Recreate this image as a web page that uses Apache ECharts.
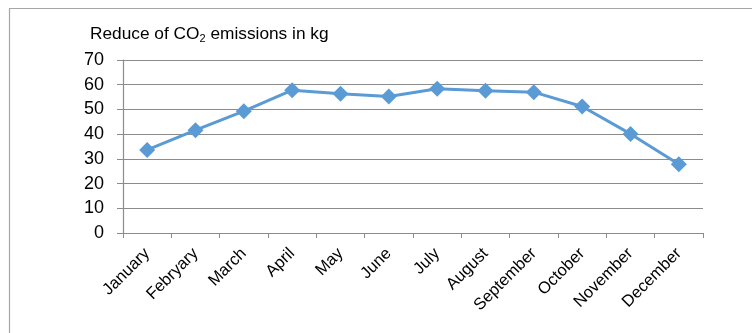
<!DOCTYPE html>
<html>
<head>
<meta charset="utf-8">
<script src="https://cdn.jsdelivr.net/npm/echarts@6/dist/echarts.min.js"></script>
<style>html,body{margin:0;padding:0;background:#fff}#c{width:752px;height:333px}</style>
</head>
<body>
<div id="c"></div>
<script>
var categories = ['January','Febryary','March','April','May','June','July','August','September','October','November','December'];
var values = [33.6, 41.6, 49.3, 57.8, 56.3, 55.2, 58.4, 57.6, 57.0, 51.2, 40.1, 27.8];
var yTicks = { min: 0, max: 70, interval: 10 };

var chart = echarts.init(document.getElementById('c'), null, { renderer: 'canvas' });
var font = 'Liberation Sans, Arial, sans-serif';
chart.setOption({
  backgroundColor: '#fff',
  animation: false,
  graphic: [{
    type: 'rect', left: 7, top: 6,
    shape: { width: 900, height: 500 },
    style: { fill: 'none', stroke: '#a6a6a6', lineWidth: 1.2 },
    silent: true, z: -10
  }],
  title: {
    left: 85, top: 16,
    text: '{a|Reduce of CO}{b|2}{a| emissions in kg}',
    textStyle: {
      rich: {
        a: { fontFamily: font, fontSize: 17.3, fontWeight: 'normal', color: '#000', lineHeight: 22, verticalAlign: 'bottom' },
        b: { fontFamily: font, fontSize: 11, fontWeight: 'normal', color: '#000', lineHeight: 12, verticalAlign: 'top', padding: [12, 0, 0, 0] }
      }
    }
  },
  grid: { left: 123, right: 49, top: 60, bottom: 100, containLabel: false },
  xAxis: {
    type: 'category',
    data: categories,
    boundaryGap: true,
    axisLine: { show: true, lineStyle: { color: '#8c8c8c', width: 1.2 } },
    axisTick: { show: true, length: 5, lineStyle: { color: '#8c8c8c' } },
    axisLabel: { rotate: 45, margin: 18, fontFamily: font, fontSize: 16.5, color: '#000', interval: 0 }
  },
  yAxis: {
    type: 'value',
    min: yTicks.min, max: yTicks.max, interval: yTicks.interval,
    axisLine: { show: true, lineStyle: { color: '#8c8c8c', width: 1.2 } },
    axisTick: { show: true, length: 6, lineStyle: { color: '#8c8c8c' } },
    axisLabel: { margin: 19, fontFamily: font, fontSize: 18, color: '#000' },
    splitLine: { show: true, lineStyle: { color: '#8c8c8c', width: 1.2 } }
  },
  series: [{
    type: 'line',
    data: values,
    symbol: 'diamond',
    symbolSize: 16,
    itemStyle: { color: '#5b9bd5' },
    lineStyle: { color: '#5b9bd5', width: 3 }
  }]
});
</script>
</body>
</html>
